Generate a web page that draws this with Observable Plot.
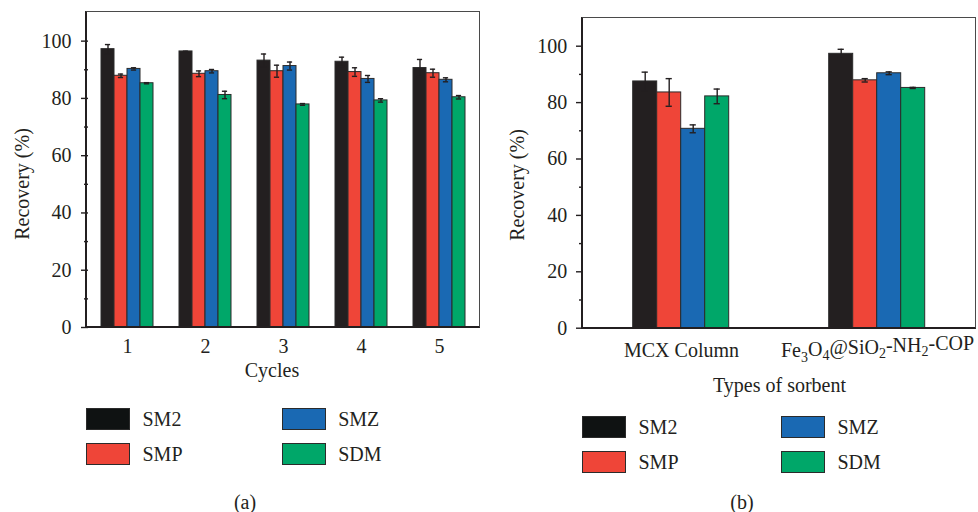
<!DOCTYPE html>
<html>
<head>
<meta charset="utf-8">
<script src="https://cdn.jsdelivr.net/npm/d3@7"></script>
<script src="https://cdn.jsdelivr.net/npm/@observablehq/plot@0.6"></script>
<style>
  body { margin: 0; background: #fff; }
  #root { position: relative; width: 978px; height: 512px; overflow: hidden; font-family: "Liberation Serif", serif; color: #231f20; }
  .abs { position: absolute; }
  .lbl { position: absolute; font-size: 20px; line-height: 1; white-space: nowrap; transform: translate(-50%, -50%); }
  .frame { position: absolute; box-sizing: border-box; border: 1.4px solid #4a4a4a; border-left: 2px solid #231f20; border-bottom: 2px solid #231f20; pointer-events: none; }
  .sw { position: absolute; width: 44px; height: 22px; box-sizing: border-box; border: 1.5px solid #2b2b2b; }
  .lt { position: absolute; font-size: 20px; line-height: 1; transform: translateY(-50%); white-space: nowrap; }
</style>
</head>
<body>
<div id="root"></div>
<script>
// ---------- data ----------
const analytes = ["SM2", "SMP", "SMZ", "SDM"];
const colors = ["#231f20", "#ef4538", "#1a69b3", "#00a769"];

// (a) reuse cycles
const cycles = ["1", "2", "3", "4", "5"];
const cycSM2 = [97.2, 96.4, 93.2, 92.8, 90.6];
const cycSM2Err = [1.6, 0.1, 2.3, 1.6, 3.0];
const cycSMP = [87.9, 88.6, 89.5, 89.2, 88.8];
const cycSMPErr = [0.6, 1.0, 2.1, 1.5, 1.4];
const cycSMZ = [90.3, 89.5, 91.3, 86.8, 86.5];
const cycSMZErr = [0.4, 0.6, 1.4, 1.2, 0.7];
const cycSDM = [85.3, 81.2, 77.9, 79.3, 80.4];
const cycSDMErr = [0.2, 1.3, 0.3, 0.6, 0.6];

// (b) types of sorbent
const sorbents = ["MCX Column", "Fe3O4@SiO2-NH2-COP"];
const sorSM2 = [87.5, 97.3];
const sorSM2Err = [3.3, 1.6];
const sorSMP = [83.6, 87.9];
const sorSMPErr = [4.9, 0.6];
const sorSMZ = [70.7, 90.4];
const sorSMZErr = [1.4, 0.5];
const sorSDM = [82.2, 85.2];
const sorSDMErr = [2.6, 0.2];

const yTicks = [0, 20, 40, 60, 80, 100];
const yMinor = [10, 30, 50, 70, 90];

// ---------- build tables ----------
function table(cats, vals, errs) {
  const rows = [];
  analytes.forEach((a, i) => cats.forEach((c, j) => rows.push({cat: c, analyte: a, value: vals[i][j], err: errs[i][j]})));
  return rows;
}
const rowsA = table(cycles, [cycSM2, cycSMP, cycSMZ, cycSDM], [cycSM2Err, cycSMPErr, cycSMZErr, cycSDMErr]);
const rowsB = table(sorbents, [sorSM2, sorSMP, sorSMZ, sorSDM], [sorSM2Err, sorSMPErr, sorSMZErr, sorSDMErr]);

function panel(rows, cats, cfg) {
  return Plot.plot({
    width: cfg.width, height: 400,
    marginTop: cfg.mt, marginBottom: 400 - cfg.bottom, marginLeft: cfg.ml, marginRight: cfg.mr,
    fx: {domain: cats, paddingInner: 0, paddingOuter: 0, axis: null, label: null},
    x: {domain: analytes, paddingInner: 0, paddingOuter: cfg.po, axis: null},
    y: {domain: [0, 110], axis: null},
    color: {domain: analytes, range: colors},
    style: {fontFamily: "Liberation Serif, serif", fontSize: "20px", color: "#231f20", background: "transparent", overflow: "visible"},
    marks: [
      Plot.barY(rows, {fx: "cat", x: "analyte", y: "value", fill: "analyte", stroke: "#2b2b2b", strokeWidth: 1}),
      Plot.ruleX(rows, {fx: "cat", x: "analyte", y1: d => d.value - d.err, y2: d => d.value + d.err, stroke: "#231f20", strokeWidth: 1.4}),
      Plot.tickY(rows, {fx: "cat", x: "analyte", y: d => d.value + d.err, inset: cfg.cap, stroke: "#231f20", strokeWidth: 1.4}),
      Plot.tickY(rows, {fx: "cat", x: "analyte", y: d => d.value - d.err, inset: cfg.cap, stroke: "#231f20", strokeWidth: 1.4}),
      Plot.axisY({ticks: yTicks, tickSize: 7, tickPadding: cfg.tp, label: null, fontSize: 20, strokeWidth: 1.4}),
      Plot.axisY({ticks: yMinor, tickSize: 4, tickFormat: () => "", label: null, strokeWidth: 1.4}),
      Plot.axisFx({anchor: "bottom", tickSize: 0, tickPadding: cfg.fxp, label: null, fontSize: 20})
    ]
  });
}

const root = document.getElementById("root");

function place(el, left, top) {
  const w = document.createElement("div");
  w.className = "abs";
  w.style.left = left + "px";
  w.style.top = top + "px";
  w.appendChild(el);
  root.appendChild(w);
  return w;
}

const cfgA = {width: 490, mt: 12, bottom: 327, ml: 86, mr: 11, po: 0.86, cap: 3.9, tp: 10, fxp: 11};
const cfgB = {width: 488, mt: 17.5, bottom: 327.7, ml: 92.3, mr: 3, po: 2, cap: 8.9, tp: 9.3, fxp: 15};

const svgA = panel(rowsA, cycles, cfgA);
const svgB = panel(rowsB, sorbents, cfgB);
place(svgA, 0, 0);
place(svgB, 490, 0);

// subscripts in the sorbent label
d3.select(svgB).selectAll("text").filter(function() { return this.textContent === sorbents[1]; }).each(function() {
  const t = d3.select(this);
  t.text(null);
  const parts = [["Fe", 0], ["3", 1], ["O", 0], ["4", 1], ["@SiO", 0], ["2", 1], ["-NH", 0], ["2", 1], ["-COP", 0]];
  let prev = 0;
  parts.forEach(([s, sub]) => {
    const sp = t.append("tspan").text(s);
    if (sub !== prev) sp.attr("dy", sub ? "0.3em" : "-0.3em");
    if (sub) sp.attr("font-size", "14px");
    prev = sub;
  });
});

// frames
function frame(left, top, w, h) {
  const f = document.createElement("div");
  f.className = "frame";
  f.style.left = (left - 1) + "px";
  f.style.top = (top - 0.7) + "px";
  f.style.width = (w + 1.7) + "px";
  f.style.height = (h + 1.7) + "px";
  root.appendChild(f);
}
frame(cfgA.ml, cfgA.mt, cfgA.width - cfgA.ml - cfgA.mr, cfgA.bottom - cfgA.mt);
frame(490 + cfgB.ml, cfgB.mt, cfgB.width - cfgB.ml - cfgB.mr, cfgB.bottom - cfgB.mt);

// labels
function label(text, x, y, rotate) {
  const d = document.createElement("div");
  d.className = "lbl";
  d.textContent = text;
  d.style.left = x + "px";
  d.style.top = y + "px";
  if (rotate) d.style.transform = "translate(-50%, -50%) rotate(-90deg)";
  root.appendChild(d);
}
label("Recovery (%)", 22, 183.5, true);
label("Recovery (%)", 517, 184.5, true);
label("Cycles", 272, 370);
label("Types of sorbent", 779.5, 385);
label("(a)", 245, 502);
label("(b)", 742, 502);

// legends
function legend(x1, x2, y1, y2) {
  const pos = [[x1, y1], [x1, y2], [x2, y1], [x2, y2]];
  analytes.forEach((a, i) => {
    const [x, y] = pos[i];
    const s = document.createElement("div");
    s.className = "sw";
    s.style.left = x + "px";
    s.style.top = y + "px";
    s.style.background = i === 0 ? "#0f1212" : colors[i];
    root.appendChild(s);
    const t = document.createElement("div");
    t.className = "lt";
    t.textContent = a;
    t.style.left = (x + 56.5) + "px";
    t.style.top = (y + 11) + "px";
    root.appendChild(t);
  });
}
legend(86, 281.7, 408, 443);
legend(582, 781, 416, 451);
</script>
</body>
</html>
